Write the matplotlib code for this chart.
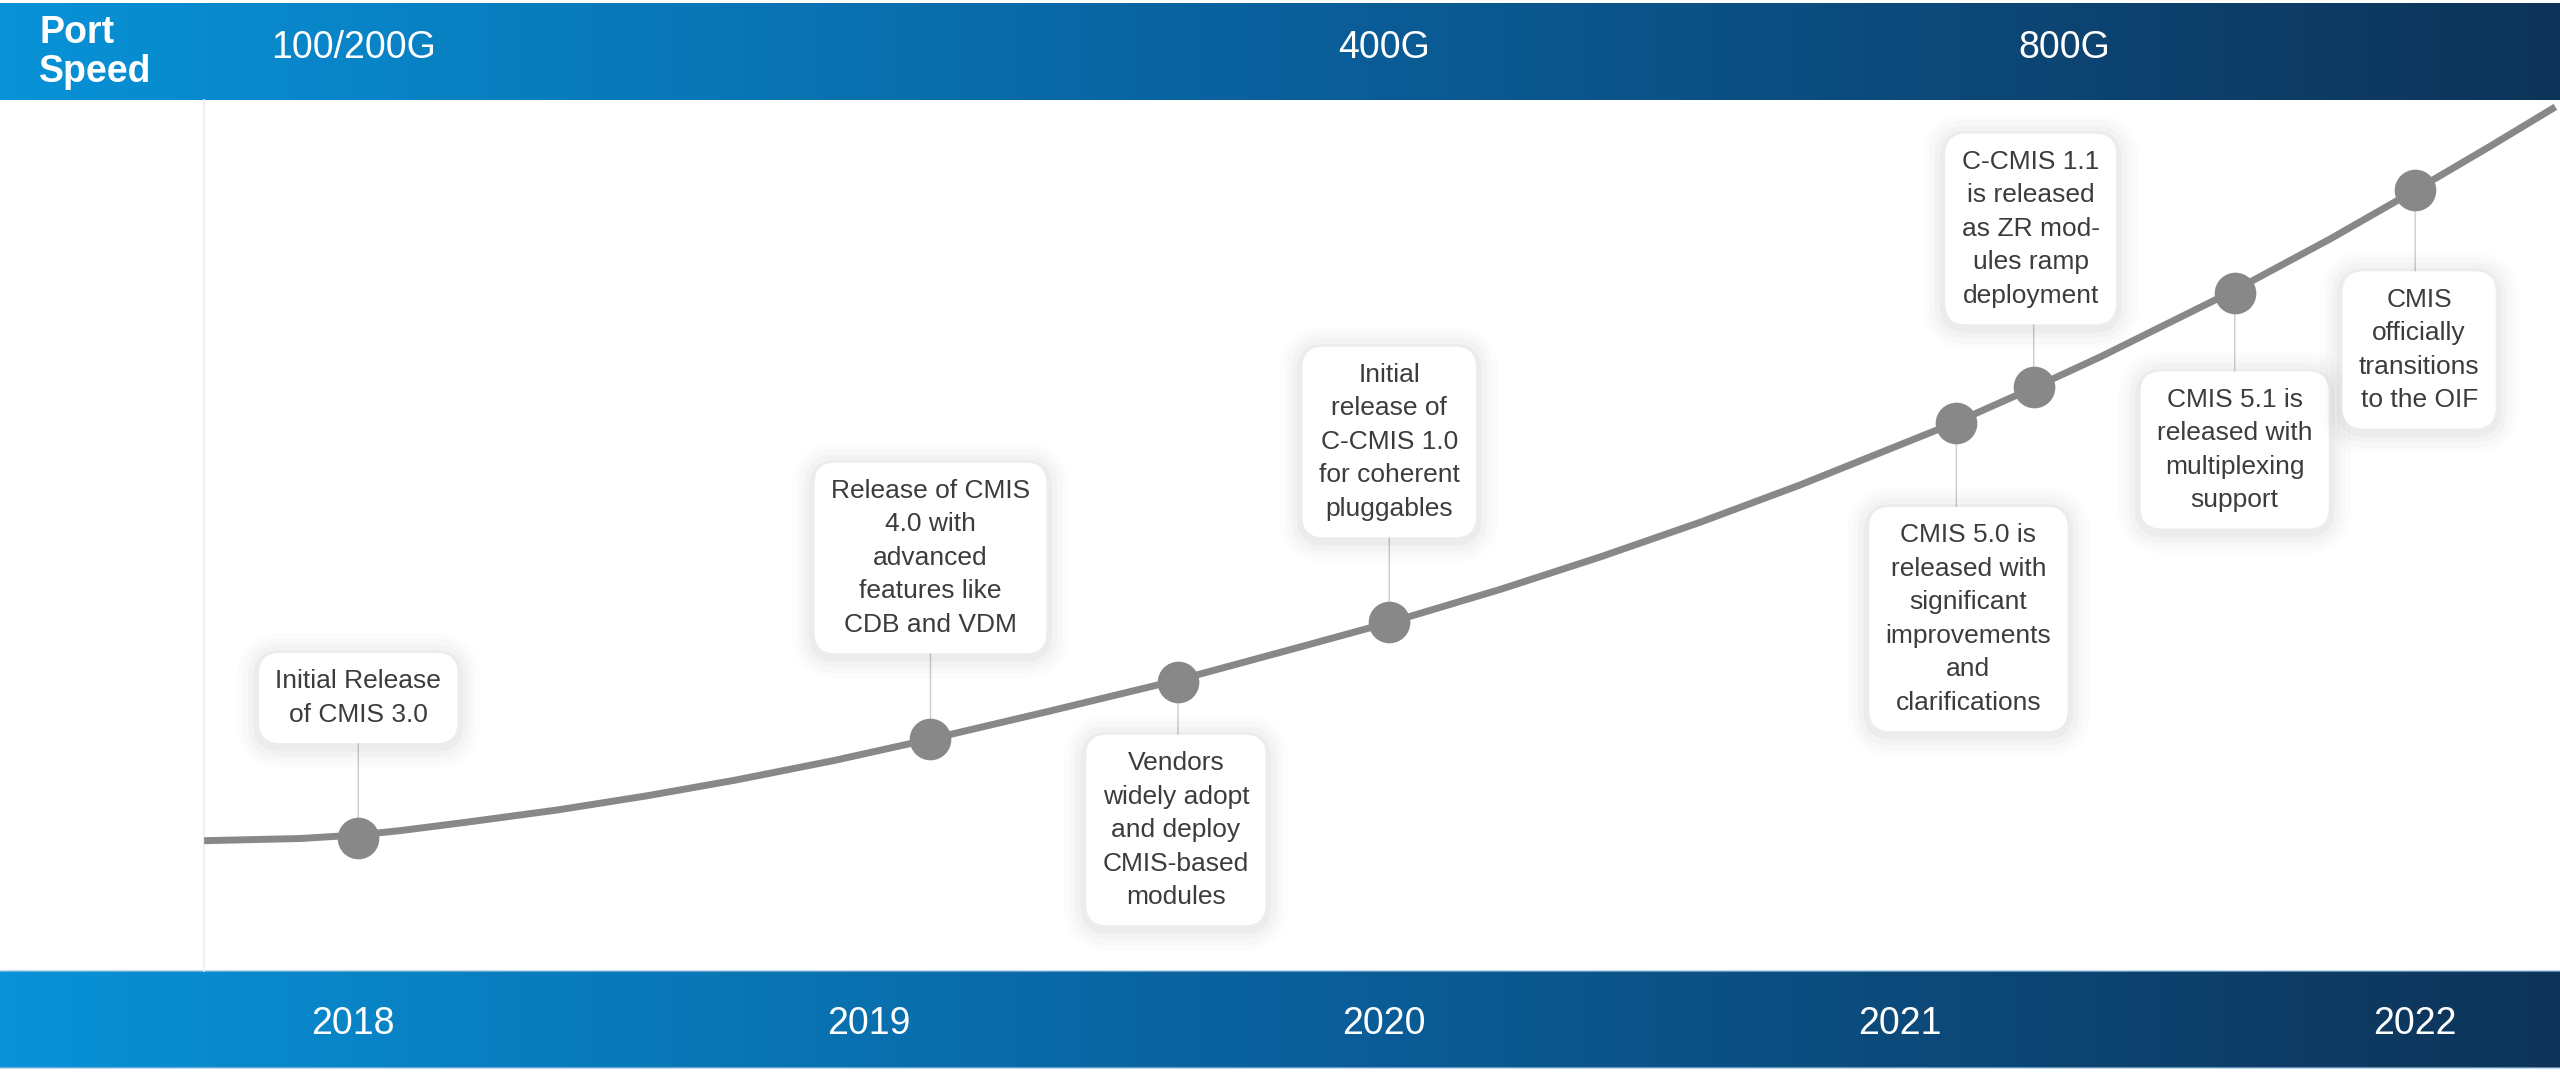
import matplotlib
matplotlib.use("Agg")
import matplotlib.pyplot as plt
import matplotlib.patheffects as pe
from matplotlib.colors import LinearSegmentedColormap
import numpy as np

# ===============================================================================
#       DATA
# ===============================================================================
YEARS = [2018, 2019, 2020, 2021, 2022]

SPEED_LABELS = ["100/200G", "400G", "800G"]
SPEED_DATES = [2018.0, 2020.0, 2021.32]

# adoption curve (date, level 0..100)
CURVE_DATE = [2017.711, 2017.897, 2018.010, 2018.093, 2018.223, 2018.396, 2018.568,
              2018.743, 2018.933, 2019.121, 2019.352, 2019.597, 2019.818, 2020.014,
              2020.225, 2020.419, 2020.613, 2020.807, 2021.106, 2021.263, 2021.389,
              2021.651, 2021.835, 2021.998, 2022.145, 2022.272]
CURVE_LEVEL = [14.86, 15.11, 15.52, 16.03, 17.01, 18.39, 20.00,
               21.84, 24.08, 26.55, 29.77, 33.28, 36.82, 40.00,
               43.74, 47.47, 51.46, 55.75, 62.87, 67.01, 70.46,
               78.16, 84.02, 89.54, 94.66, 99.20]

MILESTONE_DATE = [2018.01, 2019.12, 2019.60, 2020.01, 2021.11, 2021.26, 2021.65, 2022.00]
MILESTONE_LEVEL = [15.17, 26.55, 33.10, 40.00, 62.87, 67.01, 77.82, 89.66]
MILESTONE_TEXT = [
    "Initial Release\nof CMIS 3.0",
    "Release of CMIS\n4.0 with\nadvanced\nfeatures like\nCDB and VDM",
    "Vendors\nwidely adopt\nand deploy\nCMIS-based\nmodules",
    "Initial\nrelease of\nC-CMIS 1.0\nfor coherent\npluggables",
    "CMIS 5.0 is\nreleased with\nsignificant\nimprovements\nand\nclarifications",
    "C-CMIS 1.1\nis released\nas ZR mod-\nules ramp\ndeployment",
    "CMIS 5.1 is\nreleased with\nmultiplexing\nsupport",
    "CMIS\nofficially\ntransitions\nto the OIF",
]

# ===============================================================================
#       LAYOUT
# ===============================================================================
W_PX, H_PX = 2560, 1075
XMIN, XMAX = 2017.315, 2022.281
YMIN, YMAX = -12.07, 111.49

# label box centre offset from its milestone, pixels
LABEL_OFFSET = [(0, 140), (0, 181), (-2, -148), (0, 180),
                (12, -196), (-3, 158), (0, -157), (4, -160)]

CURVE_COL = "#888888"
TEXT_COL = "#3c3c3c"
LINK_COL = "#cccccc"


def fy(px):
    # pixel row -> axes fraction
    return 1.0 - px / H_PX


plt.rcParams["font.family"] = ["Liberation Sans", "DejaVu Sans"]

fig = plt.figure(figsize=(W_PX / 100, H_PX / 100), dpi=100)
fig.patch.set_facecolor("white")
ax = fig.add_axes([0, 0, 1, 1])
ax.axis("off")

# gradient bands
band = LinearSegmentedColormap.from_list(
    "band", [(0.0, "#0892d7"), (0.5, "#0a609c"), (1.0, "#0e3358")])
grad = np.linspace(0, 1, 512).reshape(1, -1)
for top, bot in [(3, 100), (971, 1068)]:
    ax.imshow(grad, extent=[0, 1, fy(bot), fy(top)], transform=ax.transAxes,
              cmap=band, aspect="auto", zorder=0)
for row in (971, 1068):
    ax.plot([0, 1], [fy(row), fy(row)], transform=ax.transAxes,
            color="#9cc3e0", lw=1.5, alpha=0.6, zorder=1)

# left edge of plot region
ax.plot([CURVE_DATE[0], CURVE_DATE[0]], [fy(100), fy(971)],
        transform=ax.get_xaxis_transform(), color="#ececec", lw=1.2, zorder=1)

# header texts
ax.text(39 / W_PX, fy(43), "Port", transform=ax.transAxes, color="white",
        fontsize=27, fontweight="bold", ha="left", va="baseline")
ax.text(39 / W_PX, fy(82), "Speed", transform=ax.transAxes, color="white",
        fontsize=27, fontweight="bold", ha="left", va="baseline")
for lab, d in zip(SPEED_LABELS, SPEED_DATES):
    ax.text(d, fy(48), lab, transform=ax.get_xaxis_transform(), color="white",
            fontsize=27, ha="center", va="center")
for yr in YEARS:
    ax.text(yr, fy(1024), str(yr), transform=ax.get_xaxis_transform(),
            color="white", fontsize=27, ha="center", va="center")

# curve and milestones
ax.plot(CURVE_DATE, CURVE_LEVEL, color=CURVE_COL, lw=5, solid_capstyle="butt",
        solid_joinstyle="round", zorder=2)
ax.plot(MILESTONE_DATE, MILESTONE_LEVEL, "o", color=CURVE_COL, ms=30, mew=0, zorder=6)

shadow = [pe.Stroke(linewidth=w, foreground="black", alpha=a, offset=(0, -2))
          for w, a in [(32, 0.010), (24, 0.014), (16, 0.018), (8, 0.026)]] + [pe.Normal()]

for d, lv, txt, off in zip(MILESTONE_DATE, MILESTONE_LEVEL, MILESTONE_TEXT, LABEL_OFFSET):
    # vertical connector from the milestone to its label
    ax.annotate("", xy=(d, lv), xytext=(0, off[1]), textcoords="offset pixels",
                arrowprops=dict(arrowstyle="-", color=LINK_COL, lw=1.0,
                                shrinkA=0, shrinkB=0), zorder=3)
    ann = ax.annotate(txt, xy=(d, lv), xytext=off, textcoords="offset pixels",
                      ha="center", va="center", fontsize=19, color=TEXT_COL,
                      linespacing=1.5, zorder=4,
                      bbox=dict(boxstyle="round,pad=0.62,rounding_size=0.8",
                                fc="white", ec="none"))
    ann.get_bbox_patch().set_path_effects(shadow)

ax.set_xlim(XMIN, XMAX)
ax.set_ylim(YMIN, YMAX)

fig.savefig("out.png", dpi=100, facecolor="white")
